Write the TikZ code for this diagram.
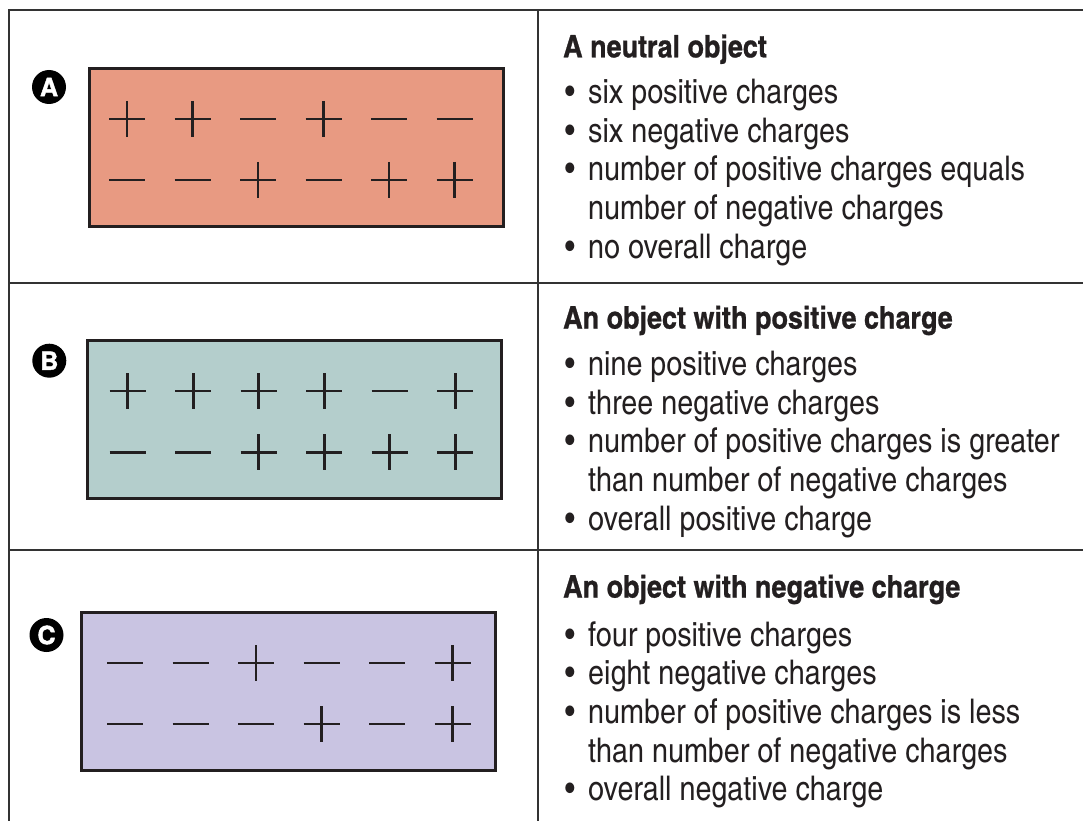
\documentclass[tikz,border=0pt]{standalone}
\usepackage{fontspec}
\newfontfamily\cnfont{TeX Gyre Heros Cn}[FakeStretch=1.03]
\newfontfamily\cnhead{TeX Gyre Heros Cn}[FakeStretch=1.06,FakeBold=0.8]
\newfontfamily\badgefont{TeX Gyre Heros}[FakeBold=1.8]
\definecolor{ink}{HTML}{231F20}
\definecolor{rule}{HTML}{333333}
\definecolor{fillA}{HTML}{E89A82}
\definecolor{fillB}{HTML}{B4CECC}
\definecolor{fillC}{HTML}{C9C4E2}
\tikzset{
  gridline/.style={line width=1.5pt, draw=rule},
  objbox/.style={draw=ink, line width=3pt},
  chg/.style={draw=ink, line width=2.9pt},
  head/.style={anchor=base west, inner sep=0pt, text=ink, font=\cnhead\bfseries\fontsize{31}{36}\selectfont},
  item/.style={anchor=base west, inner sep=0pt, text=ink, font=\cnfont\fontsize{34}{38.7}\selectfont},
  bul/.style={anchor=base, inner sep=0pt, text=ink, font=\cnfont\fontsize{34}{38.7}\selectfont},
  badge/.style={circle, fill=black, minimum size=34pt, inner sep=0pt, text=white, font=\badgefont\bfseries\fontsize{25}{25}\selectfont},
}
\newcommand\chargerow[3]{%
  \foreach \s [count=\i from 0] in {#3} {%
    \pgfmathsetmacro\xx{#1+65.5*\i}
    \draw[chg] (\xx-18,#2) -- (\xx+18,#2);
    \if\s p\draw[chg] (\xx,#2-18) -- (\xx,#2+18);\fi
  }%
}
\begin{document}
\begin{tikzpicture}[x=1pt,y=-1pt]
\useasboundingbox (0,0) rectangle (1083,821);
% table rules
\coordinate (tl) at (9,10);
\coordinate (tr) at (1083,10);
\coordinate (bl) at (9,821);
\coordinate (mt) at (538,10);
\coordinate (mb) at (538,821);
\coordinate (r1l) at (9,283);
\coordinate (r1r) at (1083,283);
\coordinate (r2l) at (9,550);
\coordinate (r2r) at (1083,550);
\draw[gridline] (tr) -- (tl) -- (bl);
\draw[gridline] (mt) -- (mb);
\draw[gridline] (r1l) -- (r1r);
\draw[gridline] (r2l) -- (r2r);

% object boxes
\node[objbox, fill=fillA, minimum width=414pt, minimum height=158pt, inner sep=0pt, anchor=north west] (boxA) at (88,67) {};
\node[objbox, fill=fillB, minimum width=414pt, minimum height=158pt, inner sep=0pt, anchor=north west] (boxB) at (86,339) {};
\node[objbox, fill=fillC, minimum width=414pt, minimum height=158pt, inner sep=0pt, anchor=north west] (boxC) at (80,611) {};

% charges
\chargerow{127}{119}{p,p,m,p,m,m}
\chargerow{127}{180}{m,m,p,m,p,p}
\chargerow{127.7}{391}{p,p,p,p,m,p}
\chargerow{127.7}{452.3}{m,m,p,p,p,p}
\chargerow{125}{663}{m,m,p,m,m,p}
\chargerow{125}{724}{m,m,m,p,m,p}

% badges
\node[badge] (badgeA) at (49,87) {A};
\node[badge] (badgeB) at (49.3,360.7) {B};
\node[badge] (badgeC) at (46.5,635) {C};

% text A
\node[head] (hA) at (563,57.3) {A neutral object};
\node[bul] (bA1) at (570,103.5) {•};
\node[item] (tA1) at (588,103.5) {six positive charges};
\node[bul] (bA2) at (570,142.2) {•};
\node[item] (tA2) at (588,142.2) {six negative charges};
\node[bul] (bA3) at (570,180.9) {•};
\node[item] (tA3) at (588,180.9) {number of positive charges equals};
\node[item] (tA3b) at (588,219.6) {number of negative charges};
\node[bul] (bA4) at (570,258.3) {•};
\node[item] (tA4) at (588,258.3) {no overall charge};

% text B
\node[head] (hB) at (563,328.5) {An object with positive charge};
\node[bul] (bB1) at (570,375.5) {•};
\node[item] (tB1) at (588,375.5) {nine positive charges};
\node[bul] (bB2) at (570,414.2) {•};
\node[item] (tB2) at (588,414.2) {three negative charges};
\node[bul] (bB3) at (570,452.9) {•};
\node[item] (tB3) at (588,452.9) {number of positive charges is greater};
\node[item] (tB3b) at (588,491.6) {than number of negative charges};
\node[bul] (bB4) at (570,530.3) {•};
\node[item] (tB4) at (588,530.3) {overall positive charge};

% text C
\node[head] (hC) at (563,597.5) {An object with negative charge};
\node[bul] (bC1) at (570,646) {•};
\node[item] (tC1) at (588,646) {four positive charges};
\node[bul] (bC2) at (570,684.7) {•};
\node[item] (tC2) at (588,684.7) {eight negative charges};
\node[bul] (bC3) at (570,723.4) {•};
\node[item] (tC3) at (588,723.4) {number of positive charges is less};
\node[item] (tC3b) at (588,762.1) {than number of negative charges};
\node[bul] (bC4) at (570,800.8) {•};
\node[item] (tC4) at (588,800.8) {overall negative charge};
\end{tikzpicture}
\end{document}
